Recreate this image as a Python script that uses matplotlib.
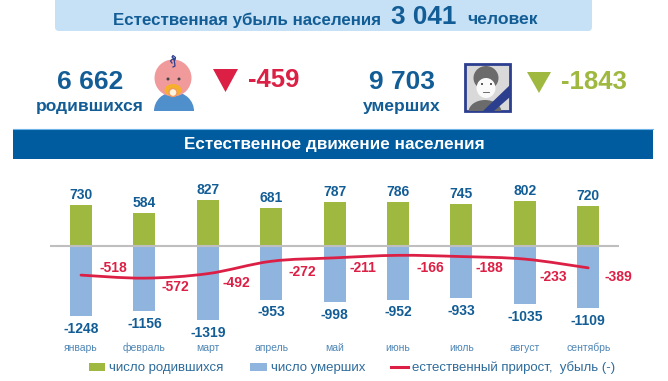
import matplotlib
matplotlib.use("Agg")
import matplotlib.pyplot as plt
import numpy as np
from matplotlib.patches import Circle, Ellipse, FancyBboxPatch, PathPatch, Polygon, Rectangle
from matplotlib.path import Path
from matplotlib.lines import Line2D

plt.rcParams['font.family'] = ['Liberation Sans', 'DejaVu Sans']

months = ["январь", "февраль", "март", "апрель", "май", "июнь", "июль", "август", "сентябрь"]
births = [730, 584, 827, 681, 787, 786, 745, 802, 720]
deaths = [-1248, -1156, -1319, -953, -998, -952, -933, -1035, -1109]
natural = [-518, -572, -492, -272, -211, -166, -188, -233, -389]

blue_text = "#135d96"
green = "#9fb840"
light_blue = "#8fb5de"
red = "#dc2045"
navy = "#2c3f8f"

W, H = 668, 381
fig = plt.figure(figsize=(W / 100, H / 100), dpi=100)

# top part is laid out in pixels
bg = fig.add_axes([0, 0, 1, 1])
bg.set_xlim(0, W)
bg.set_ylim(H, 0)
bg.axis("off")

bg.add_patch(FancyBboxPatch((55, -10), 537, 41, boxstyle="round,pad=0,rounding_size=4",
                            fc="#c6e1f6", ec="none"))
bg.text(113, 20, "Естественная убыль населения", color=blue_text, fontsize=12.2, fontweight="bold",
        va="center", ha="left")
bg.text(391, 17.5, "3 041", color=blue_text, fontsize=18.8, fontweight="bold", va="center", ha="left")
bg.text(467, 20, "человек", color=blue_text, fontsize=12.6, fontweight="bold", va="center", ha="left")

bg.text(90, 82, "6 662", color=blue_text, fontsize=19, fontweight="bold", va="center", ha="center")
bg.text(90, 106, "родившихся", color=blue_text, fontsize=12.5, fontweight="bold", va="center", ha="center")
bg.text(402, 82, "9 703", color=blue_text, fontsize=19, fontweight="bold", va="center", ha="center")
bg.text(402, 106, "умерших", color=blue_text, fontsize=12.5, fontweight="bold", va="center", ha="center")

bg.add_patch(Polygon([[213, 69], [238, 69], [225.5, 92]], fc=red, ec="none"))
bg.text(248, 80, "-459", color=red, fontsize=18.5, fontweight="bold", va="center", ha="left")
bg.add_patch(Polygon([[527, 72], [551, 72], [539, 93]], fc=green, ec="none"))
bg.text(561, 82, "-1843", color=green, fontsize=18.5, fontweight="bold", va="center", ha="left")

# baby icon
bg.add_patch(Ellipse((174, 111), 40, 38, fc="#4f8fcb", ec="none", zorder=2))
bg.add_patch(Rectangle((150, 111), 48, 22, fc="white", ec="none", zorder=2))
bg.add_patch(Circle((173, 78), 18.5, fc="#f09a9c", ec="none", zorder=3))
bg.add_patch(Ellipse((173, 90), 17, 12, fc="#f7b02c", ec="none", zorder=4))
bg.add_patch(Circle((173, 92.5), 4, fc="#fff4e0", ec="#f09a60", lw=1, zorder=5))
bg.add_patch(Circle((168, 79), 1.5, fc="#444444", ec="none", zorder=5))
bg.add_patch(Circle((179, 79), 1.5, fc="#444444", ec="none", zorder=5))
bg.plot([172, 170.5, 172.5, 175, 175.5, 173, 172, 174, 175, 173],
        [63, 61, 59, 60, 57.5, 55.5, 57, 58.5, 66, 67], color=navy, lw=0.9, zorder=3)

# portrait icon
frame = Rectangle((465, 64), 45, 47, fc="#d9d9d9", ec=navy, lw=2, zorder=2)
bg.add_patch(frame)
shoulders = Ellipse((485, 112), 33, 24, fc="#6b6b6b", ec="none", zorder=3)
bg.add_patch(shoulders)
shoulders.set_clip_path(frame)
bg.add_patch(Ellipse((486, 78), 25, 24, fc="#6b6b6b", ec="none", zorder=4))
bg.add_patch(Ellipse((486, 88), 19, 20, fc="#fafafa", ec="none", zorder=5))
bg.add_patch(Circle((482, 84), 1, fc="#333333", ec="none", zorder=6))
bg.add_patch(Circle((491, 84), 1, fc="#333333", ec="none", zorder=6))
bg.plot([483, 489], [92, 92], color="#555555", lw=0.6, zorder=6)
bg.add_patch(Polygon([[483, 111], [510, 85], [510, 97], [494, 111]], fc=navy, ec="none", zorder=7))

# band
bg.add_patch(Rectangle((13, 129), 640, 30, fc="#005c9e", ec="none", zorder=8))
bg.plot([13, 653], [129, 129], color="#6db3e8", lw=0.8, zorder=9)
bg.text(334, 145, "Естественное движение населения", color="white", fontsize=12.3, fontweight="bold",
        va="center", ha="center", zorder=9)

# chart, axes spans x 50-619 px and y 180-337 px
px = 0.0562
ax = fig.add_axes([50 / W, 1 - 337 / H, 569 / W, 157 / H])
ax.patch.set_alpha(0)
ax.set_xlim((50 - 81) / 63.4, (619 - 81) / 63.4)
ax.set_ylim(-(337 - 246) / px, (246 - 180) / px)
for s in ax.spines.values():
    s.set_visible(False)

x = np.arange(len(months))
ax.bar(x, births, width=0.345, color=green)
ax.bar(x, deaths, width=0.345, color=light_blue)
ax.axhline(0, color="#bfbfbf", lw=1.5, zorder=1)

# smooth line through the monthly values
pts = np.column_stack([x, natural]).astype(float)
verts = [pts[0]]
codes = [Path.MOVETO]
for i in range(len(pts) - 1):
    p0 = pts[max(i - 1, 0)]
    p3 = pts[min(i + 2, len(pts) - 1)]
    verts += [pts[i] + (pts[i + 1] - p0) / 6, pts[i + 1] - (p3 - pts[i]) / 6, pts[i + 1]]
    codes += [Path.CURVE4] * 3
ax.add_patch(PathPatch(Path(verts, codes), fc="none", ec=red, lw=2, capstyle="round", zorder=3))

for i in x:
    ax.annotate(str(births[i]), (i, births[i]), xytext=(0, 2), textcoords="offset points", ha="center",
                va="bottom", color=blue_text, fontsize=10, fontweight="bold")
    ax.annotate(str(deaths[i]), (i, deaths[i]), xytext=(0, -4), textcoords="offset points", ha="center",
                va="top", color=blue_text, fontsize=10, fontweight="bold")

# red labels sit between the months, offsets in pixels
label_dx = [32, 31, 29, 31, 28, 32, 28, 29, 30]
label_dy = [7, -9, -9, -11, -10, -13, -11, -18, -9]
for i in x:
    ax.annotate(str(natural[i]), (i, natural[i]), xytext=(label_dx[i], label_dy[i]), textcoords="offset pixels",
                ha="center", va="center", color=red, fontsize=10, fontweight="bold", zorder=4)

ax.set_yticks([])
ax.set_xticks(x, months)
ax.tick_params(axis="x", length=0, pad=10, labelsize=7.5, labelcolor="#4f86b5")
for t in ax.get_xticklabels():
    t.set_verticalalignment("baseline")

handles = [Rectangle((0, 0), 1, 1, fc=green, ec="none"),
           Rectangle((0, 0), 1, 1, fc=light_blue, ec="none"),
           Line2D([0], [0], color=red, lw=2.2)]
fig.legend(handles, ["число родившихся", "число умерших", "естественный прирост,  убыль (-)"],
           loc="center", bbox_to_anchor=(352 / W, 1 - 368 / H), ncol=3, frameon=False, fontsize=9.5,
           labelcolor="#2e6c9b", handlelength=1.25, handleheight=0.5, handletextpad=0.3, columnspacing=2.0)

fig.savefig("out.png", dpi=100)
